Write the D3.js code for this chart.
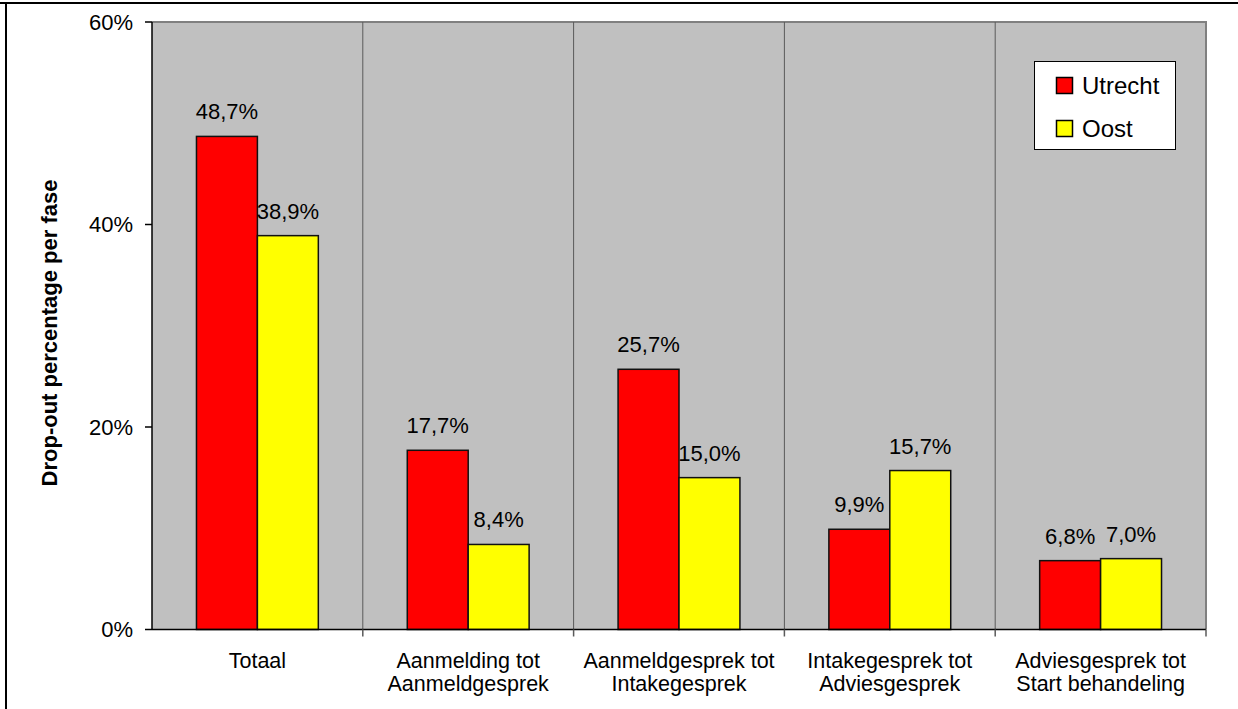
<!DOCTYPE html>
<html>
<head>
<meta charset="utf-8">
<script src="https://cdn.jsdelivr.net/npm/d3@7"></script>
<style>
  html, body { margin: 0; padding: 0; background: #fff; }
  svg { display: block; font-family: "Liberation Sans", Arial, sans-serif; }
</style>
</head>
<body>
<svg id="chart" width="1238" height="709"></svg>
<script>
// Drop-out per phase, two regions
const categories = [
  ["Totaal"],
  ["Aanmelding tot", "Aanmeldgesprek"],
  ["Aanmeldgesprek tot", "Intakegesprek"],
  ["Intakegesprek tot", "Adviesgesprek"],
  ["Adviesgesprek tot", "Start behandeling"]
];
const seriesNames = ["Utrecht", "Oost"];
const seriesColors = ["#FF0000", "#FFFF00"];
const utrecht = [0.487, 0.177, 0.257, 0.099, 0.068];
const oost    = [0.389, 0.084, 0.150, 0.157, 0.070];
const yTicks  = [0, 0.2, 0.4, 0.6];
const yTitle  = "Drop-out percentage per fase";

const series = [utrecht, oost];
const svg = d3.select("#chart");

const nl = d3.formatLocale({decimal: ",", thousands: ".", grouping: [3], currency: ["€", ""]});
const fmtValue = nl.format(".1%");
const fmtTick = nl.format(".0%");

const plot = {left: 152, right: 1206, top: 22, bottom: 629.5};

const x0 = d3.scaleBand()
  .domain(d3.range(categories.length))
  .range([plot.left, plot.right])
  .padding(0);
const x1 = d3.scaleBand()
  .domain(d3.range(seriesNames.length))
  .range([0, x0.bandwidth()])
  .paddingInner(0)
  .paddingOuter(0.73);
const y = d3.scaleLinear().domain([0, 0.6]).range([plot.bottom, plot.top]);

// frame lines along the top and left edge
svg.append("line").attr("x1", 0).attr("x2", 1238).attr("y1", 3).attr("y2", 3)
  .attr("stroke", "#000").attr("stroke-width", 2);
svg.append("line").attr("x1", 6).attr("x2", 6).attr("y1", 2).attr("y2", 709)
  .attr("stroke", "#000").attr("stroke-width", 2);

// plot area
svg.append("rect")
  .attr("x", plot.left).attr("y", plot.top)
  .attr("width", plot.right - plot.left).attr("height", plot.bottom - plot.top)
  .attr("fill", "#C0C0C0");
svg.append("path")
  .attr("d", `M${plot.left},${plot.top}H${plot.right}V${plot.bottom}`)
  .attr("fill", "none").attr("stroke", "#808080").attr("stroke-width", 2);

// category separators
const bounds = d3.range(1, categories.length).map(i => x0(i));
svg.append("g").selectAll("line").data(bounds).join("line")
  .attr("x1", d => d).attr("x2", d => d)
  .attr("y1", plot.top).attr("y2", plot.bottom)
  .attr("stroke", "#5a5a5a").attr("stroke-width", 1);

// bars
const groups = svg.append("g").selectAll("g").data(categories).join("g")
  .attr("transform", (d, i) => `translate(${x0(i)},0)`);
groups.selectAll("rect")
  .data((d, i) => series.map((s, j) => ({j, v: s[i]})))
  .join("rect")
  .attr("x", d => x1(d.j))
  .attr("y", d => y(d.v))
  .attr("width", x1.bandwidth())
  .attr("height", d => y(0) - y(d.v))
  .attr("fill", d => seriesColors[d.j])
  .attr("stroke", "#111").attr("stroke-width", 1.5);
groups.selectAll("text")
  .data((d, i) => series.map((s, j) => ({j, v: s[i]})))
  .join("text")
  .attr("x", d => x1(d.j) + x1.bandwidth() / 2)
  .attr("y", d => y(d.v) - 17)
  .attr("text-anchor", "middle")
  .attr("font-size", 22)
  .attr("fill", "#000")
  .text(d => fmtValue(d.v));

// x axis
const xAxis = svg.append("g");
xAxis.append("line")
  .attr("x1", plot.left).attr("x2", plot.right)
  .attr("y1", plot.bottom).attr("y2", plot.bottom)
  .attr("stroke", "#000").attr("stroke-width", 1.5);
const xTickPos = d3.range(0, categories.length + 1).map(i => i < categories.length ? x0(i) : plot.right);
xAxis.selectAll("line.tick").data(xTickPos.slice(1)).join("line")
  .attr("class", "tick")
  .attr("x1", d => d).attr("x2", d => d)
  .attr("y1", plot.bottom).attr("y2", plot.bottom + 7)
  .attr("stroke", "#5a5a5a").attr("stroke-width", 1.5);
const catLabels = xAxis.selectAll("text").data(categories).join("text")
  .attr("text-anchor", "middle")
  .attr("font-size", 21.5)
  .attr("fill", "#000");
catLabels.selectAll("tspan").data((d, i) => d.map((line, k) => ({line, k, i}))).join("tspan")
  .attr("x", d => x0(d.i) + x0.bandwidth() / 2)
  .attr("y", d => 667.5 + d.k * 23)
  .text(d => d.line);

// y axis
const yAxis = svg.append("g");
yAxis.append("line")
  .attr("x1", plot.left).attr("x2", plot.left)
  .attr("y1", plot.top).attr("y2", plot.bottom)
  .attr("stroke", "#000").attr("stroke-width", 1.5);
yAxis.selectAll("line.tick").data(yTicks).join("line")
  .attr("class", "tick")
  .attr("x1", plot.left - 7).attr("x2", plot.left)
  .attr("y1", d => y(d)).attr("y2", d => y(d))
  .attr("stroke", "#000").attr("stroke-width", 1.5);
yAxis.selectAll("text").data(yTicks).join("text")
  .attr("x", 133)
  .attr("y", d => y(d))
  .attr("dy", "0.35em")
  .attr("text-anchor", "end")
  .attr("font-size", 22)
  .attr("fill", "#000")
  .text(d => fmtTick(d));

svg.append("text")
  .attr("transform", "translate(57,333) rotate(-90)")
  .attr("text-anchor", "middle")
  .attr("font-size", 22)
  .attr("font-weight", "bold")
  .attr("fill", "#000")
  .text(yTitle);

// legend
const legend = svg.append("g");
legend.append("rect")
  .attr("x", 1034.5).attr("y", 61.5).attr("width", 141).attr("height", 88)
  .attr("fill", "#fff").attr("stroke", "#000").attr("stroke-width", 1);
const items = legend.selectAll("g").data(seriesNames).join("g")
  .attr("transform", (d, i) => `translate(0,${i * 43})`);
items.append("rect")
  .attr("x", 1056.5).attr("y", 77.5).attr("width", 16).attr("height", 16)
  .attr("fill", (d, i) => seriesColors[i])
  .attr("stroke", "#000").attr("stroke-width", 1.5);
items.append("text")
  .attr("x", 1082).attr("y", 93.5)
  .attr("font-size", 24)
  .attr("fill", "#000")
  .text(d => d);
</script>
</body>
</html>
